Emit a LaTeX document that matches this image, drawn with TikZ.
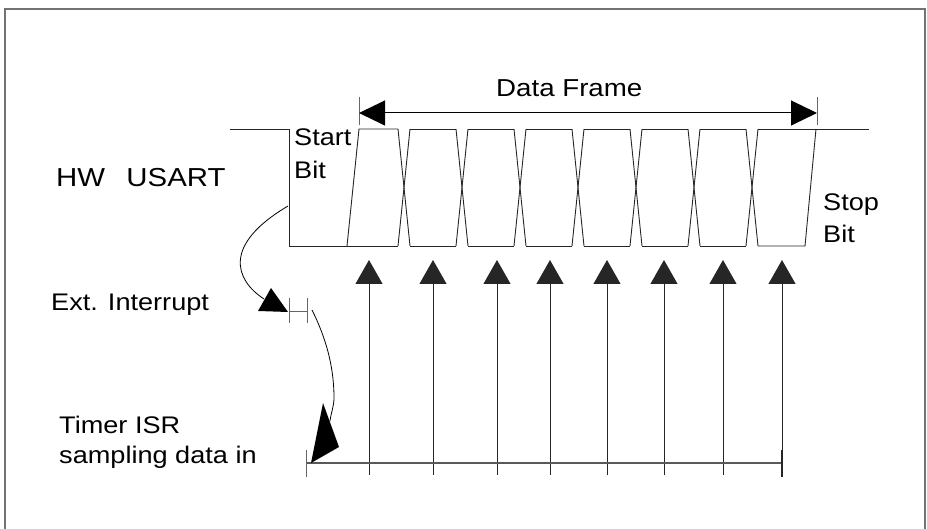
\documentclass[tikz,border=0pt]{standalone}
\usepackage{fontspec}
\setmainfont{Liberation Sans}[FakeStretch=1.13]
\usetikzlibrary{arrows.meta}
\tikzset{
  wave/.style={line width=0.9pt, black!85},
  lbl/.style={inner sep=0pt, anchor=base west, align=left, font=\fontsize{24}{33}\selectfont},
  sample/.style={line width=1pt, black!85, -{Triangle[length=24pt,width=27pt]}},
  tick/.style={line width=1pt, black!60},
  curvy/.style={line width=0.8pt, black},
  headfill/.style={fill=black},
  frameline/.style={line width=1.5pt, black!55}
}
\begin{document}
\begin{tikzpicture}[x=1pt,y=-1pt]
\useasboundingbox (0,0) rectangle (927,529);
% outer frame
\draw[frameline] (5,529) -- (5,9) -- (925,9) -- (925,529);

% labels (base anchor of a multi-line node = last line's baseline)
\node[lbl, font=\fontsize{26}{30}\selectfont] (hw) at (56,187) {HW\ \ \hspace{5pt}USART};
\node[lbl, font=\fontsize{24.5}{30}\selectfont] (df) at (496,97) {Data Frame};
\node[lbl] (start) at (294,179) {Start\\Bit};
\node[lbl, font=\fontsize{24}{32}\selectfont] (stop) at (823,243) {Stop\\Bit};
\node[lbl] (ext) at (51,311) {Ext. Interrupt};
\node[lbl, font=\fontsize{24}{30}\selectfont] (timer) at (59,463) {Timer ISR\\sampling data in};

% waveform
\draw[wave] (230,129) -- (289,129) -- (289,246) -- (398,246);
\draw[wave] (347,246) -- (359,129) -- (398,129);
\foreach \c in {404,462,520,578,636,694,752} {
  \draw[wave] (\c-6,129) -- (\c+6,246);
  \draw[wave] (\c+6,129) -- (\c-6,246);
}
\foreach \c in {404,462,520,578,636,694} {
  \draw[wave] (\c+6,129) -- (\c+52,129);
  \draw[wave] (\c+6,246) -- (\c+52,246);
}
\draw[wave] (758,129) -- (869,129);
\draw[wave] (758,246) -- (805,246) -- (816,129);

% data frame dimension arrow
\coordinate (dfL) at (359,113);
\coordinate (dfR) at (817,113);
\draw[tick] (359,97) -- (359,125);
\draw[tick] (817,97) -- (817,125);
\draw[line width=1pt, {Triangle[length=26pt,width=25pt]}-{Triangle[length=26pt,width=25pt]}] (dfL) -- (dfR);

% sampling arrows
\foreach \x in {369,433,497,550,607,664,723,782}
  \draw[sample] (\x,475) -- (\x,260);

% timer line
\coordinate (tL) at (306,463);
\coordinate (tR) at (782,463);
\draw[line width=1.3pt, black!65] (tL) -- (tR);
\draw[tick] (306,450) -- (306,477);
\draw[line width=1.8pt, black!85] (782,450) -- (782,477);

% ext interrupt marker
\draw[tick] (289,298) -- (289,323);
\draw[tick] (307,298) -- (307,323);
\draw[tick] (289,312) -- (307,312);

% curved arrows
\coordinate (fall) at (288,206);
\coordinate (extback) at (264,299);
\draw[curvy] (fall) .. controls (222,245) and (235,280) .. (extback);
\fill[headfill] (271,288) -- (258,311) -- (288,312) -- cycle;

\coordinate (extout) at (312,310);
\coordinate (mid2) at (334,398);
\coordinate (timerback) at (330,421);
\draw[curvy] (extout) .. controls (322,330) and (334,360) .. (mid2) .. controls (334,406) and (331,413) .. (timerback);
\fill[headfill] (323,403) -- (339,447) -- (311,463) -- cycle;
\end{tikzpicture}
\end{document}
